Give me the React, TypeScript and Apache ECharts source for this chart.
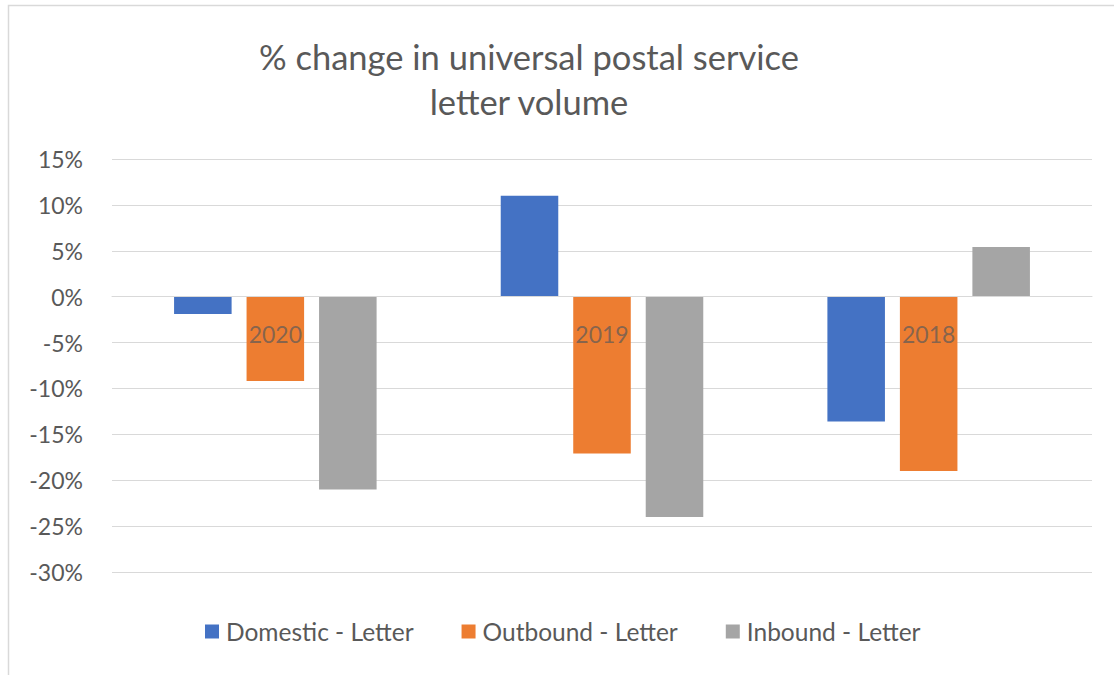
import React, { useEffect, useRef } from "react";
import * as echarts from "echarts";

const categories = ["2020", "2019", "2018"];
const domestic = [-1.9, 11.0, -13.6];
const outbound = [-9.2, -17.1, -19.0];
const inbound = [-21.0, -24.0, 5.4];
const seriesNames = ["Domestic - Letter", "Outbound - Letter", "Inbound - Letter"];
const colors = ["#4472C4", "#ED7D31", "#A5A5A5"];
const titleLines = ["% change in universal postal service", "letter volume"];

const FONT = "Lato, 'Open Sans', sans-serif";

export default function App() {
  const ref = useRef<HTMLDivElement>(null);
  useEffect(() => {
    if (!ref.current) return;
    const chart = echarts.init(ref.current, undefined, { renderer: "svg" });
    const data = [domestic, outbound, inbound];
    const gridTop = 159;
    const gridBottom = 103;
    const gridH = 675 - gridTop - gridBottom;
    const zeroFromBottom = (gridH * 30) / 45;
    chart.setOption({
      animation: false,
      backgroundColor: "#ffffff",
      textStyle: { fontFamily: FONT },
      title: {
        text: titleLines.join("\n"),
        left: 524,
        top: 29,
        textAlign: "center",
        textStyle: {
          fontFamily: FONT,
          fontSize: 34.5,
          fontWeight: "normal",
          color: "#595959",
          lineHeight: 45,
        },
      },
      graphic: [
        {
          type: "rect",
          shape: { x: 8.5, y: 5.5, width: 1200, height: 700 },
          style: { fill: "none", stroke: "#d9d9d9", lineWidth: 1.5 },
          silent: true,
          z: -1,
        },
      ],
      legend: {
        top: 614,
        left: 200,
        itemWidth: 14,
        itemHeight: 14,
        itemGap: 48,
        icon: "rect",
        textStyle: { fontFamily: FONT, fontSize: 24.5, color: "#595959", padding: [0, 0, 0, 2] },
        data: seriesNames,
      },
      grid: { left: 112, right: 22, top: gridTop, bottom: gridBottom, containLabel: false },
      xAxis: {
        type: "category",
        data: categories,
        z: 5,
        position: "bottom",
        offset: -zeroFromBottom,
        axisLine: { onZero: false, lineStyle: { color: "#d9d9d9" } },
        axisTick: { show: false },
        axisLabel: {
          fontFamily: FONT,
          fontSize: 23,
          color: "rgba(89,89,89,0.7)",
          margin: 26,
        },
      },
      yAxis: {
        type: "value",
        min: -30,
        max: 15,
        interval: 5,
        axisLine: { show: false },
        axisTick: { show: false },
        axisLabel: {
          fontFamily: FONT,
          fontSize: 23,
          color: "#595959",
          margin: 29,
          formatter: (v: number) => `${v}%`,
        },
        splitLine: { lineStyle: { color: "#d9d9d9", width: 1 } },
      },
      series: seriesNames.map((name, i) => ({
        name,
        type: "bar",
        data: data[i],
        itemStyle: { color: colors[i] },
        barGap: "26%",
        barCategoryGap: "38%",
      })),
    });
    return () => chart.dispose();
  }, []);
  return (
    <div
      ref={ref}
      style={{ position: "fixed", left: 0, top: 0, width: 1114, height: 675 }}
    />
  );
}
